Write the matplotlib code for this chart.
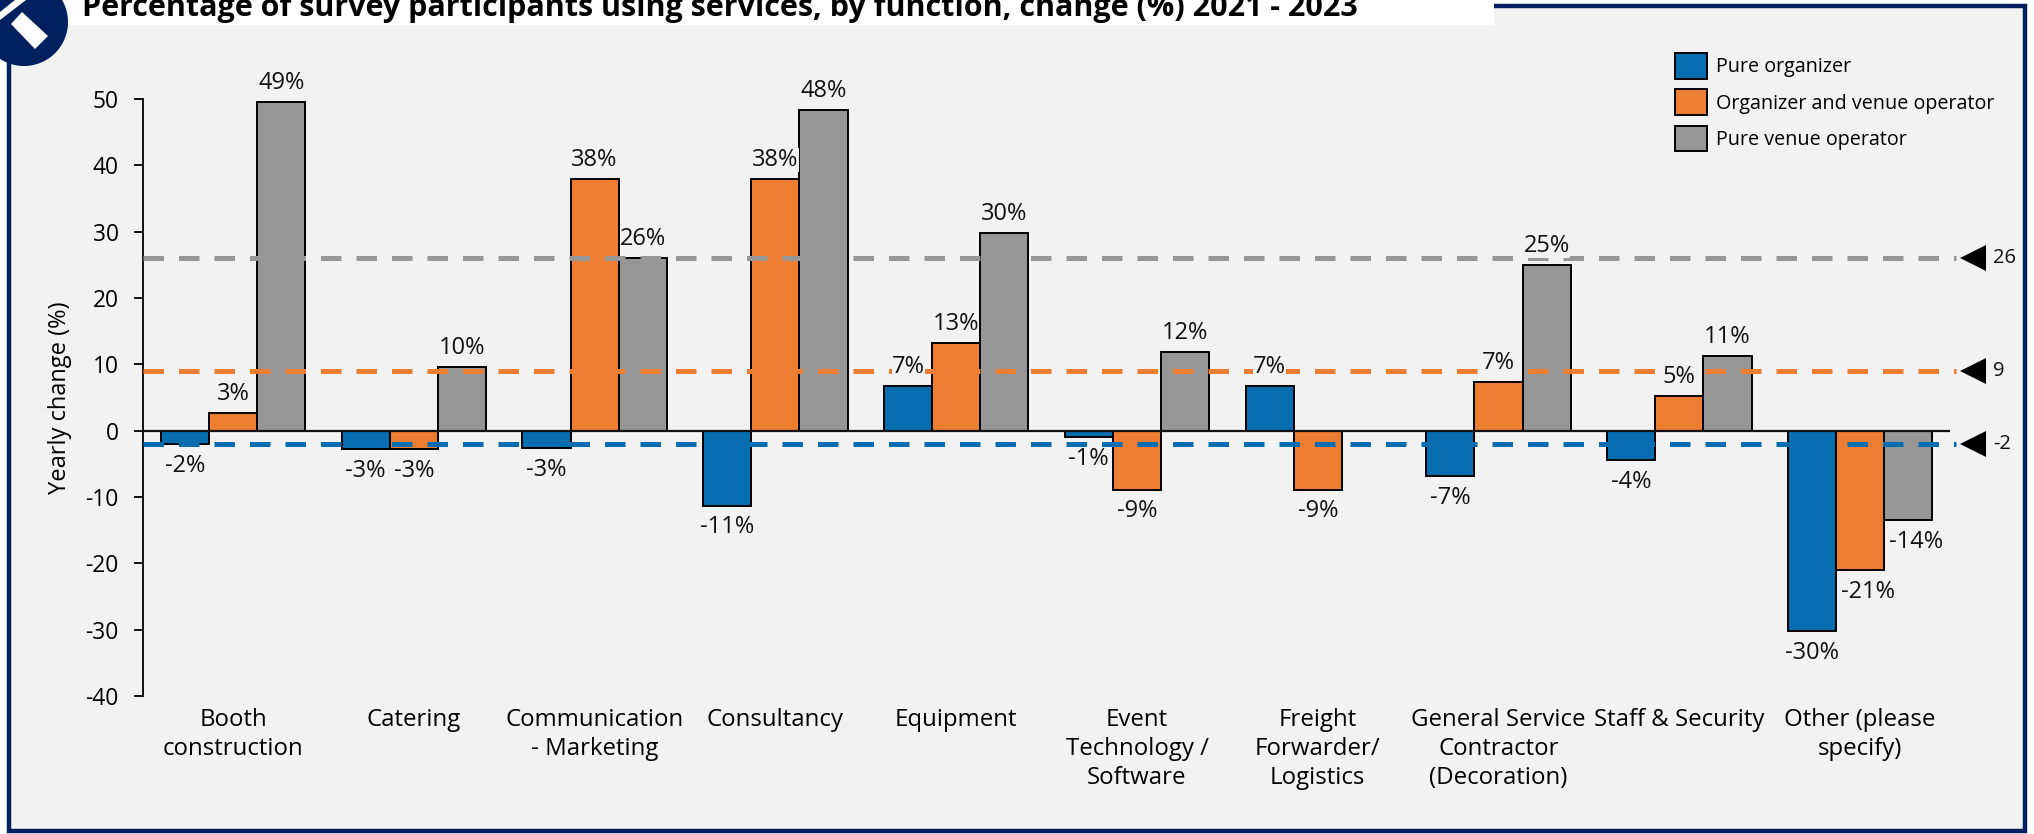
import matplotlib
matplotlib.use("Agg")
import numpy as np
import matplotlib.pyplot as plt
from matplotlib.patches import Circle, Polygon, Rectangle

plt.rcParams['font.family'] = ['Open Sans', 'DejaVu Sans']
plt.rcParams['axes.unicode_minus'] = False

categories = ["Booth\nconstruction", "Catering", "Communication\n- Marketing", "Consultancy", "Equipment",
              "Event\nTechnology /\nSoftware", "Freight\nForwarder/\nLogistics",
              "General Service\nContractor\n(Decoration)", "Staff & Security", "Other (please\nspecify)"]
series_names = ["Pure organizer", "Organizer and venue operator", "Pure venue operator"]
organizer = [-2, -2.8, -2.6, -11.3, 6.7, -1, 6.7, -6.9, -4.4, -30.2]
both = [2.7, -2.8, 38, 38, 13.2, -8.9, -8.9, 7.3, 5.2, -21]
venue = [49.5, 9.6, 26, 48.3, 29.8, 11.9, 0, 25, 11.2, -13.5]
organizer_labels = ["-2%", "-3%", "-3%", "-11%", "7%", "-1%", "7%", "-7%", "-4%", "-30%"]
both_labels = ["3%", "-3%", "38%", "38%", "13%", "-9%", "-9%", "7%", "5%", "-21%"]
venue_labels = ["49%", "10%", "26%", "48%", "30%", "12%", "", "25%", "11%", "-14%"]
averages = [-2, 9, 26]
average_labels = ["-2", "9", "26"]
colors = ["#066EB0", "#ED7D31", "#969696"]
title = "Percentage of survey participants using services, by function, change (%) 2021 - 2023"

W, H = 2034, 834
fig = plt.figure(figsize=(W / 100, H / 100), dpi=100, facecolor="white")

# background layer in pixels
bg = fig.add_axes([0, 0, 1, 1], zorder=0)
bg.set_xlim(0, W)
bg.set_ylim(H, 0)
bg.axis("off")
bg.add_patch(Rectangle((8.5, 6), 2016.5, 825, fc="#F2F2F2", ec="#002060", lw=3.2))
bg.add_patch(Rectangle((60, 0), 1434, 25, fc="white", ec="none"))
bg.add_patch(Circle((24, 22), 44, fc="#002060", ec="none"))
bg.add_patch(Polygon([(11, 24), (22, 12), (48, 36), (35, 49)], fc="white", ec="none"))
bg.add_patch(Polygon([(0, 12), (15, 0), (26, 0), (0, 20)], fc="white", ec="none"))
bg.text(82, 8, title, fontsize=22, fontweight="bold", color="black", va="center", ha="left", clip_on=False)

left, right = 143, 1950
top, bottom = 99, 696
ax = fig.add_axes([left / W, 1 - bottom / H, (right - left) / W, (bottom - top) / H], zorder=1)
ax.patch.set_alpha(0)

x = np.arange(len(categories))
bw = 0.2665
for i, (vals, labs) in enumerate(zip([organizer, both, venue], [organizer_labels, both_labels, venue_labels])):
    ax.bar(x + (i - 1) * bw, vals, bw, color=colors[i], edgecolor="black", linewidth=1.4, label=series_names[i], zorder=2)
    for j, (v, lab) in enumerate(zip(vals, labs)):
        dx = 0
        if j == 9 and i > 0:
            dx = 0.044
        ax.annotate(lab, (x[j] + (i - 1) * bw + dx, v), xytext=(0, 5 if v >= 0 else -7), textcoords="offset points",
                    ha="center", va="bottom" if v >= 0 else "top", fontsize=17, color="#111111", zorder=5,
                    bbox=dict(fc="#F2F2F2", ec="none", pad=0))

ax.axhline(0, color="#111111", lw=1.6, zorder=3)
for avg, lab, c in zip(averages, average_labels, colors):
    ax.plot([-0.498, 9.53], [avg, avg], color=c, lw=3.6, dashes=(4.1, 3.0), zorder=4, clip_on=False)
    ax.plot([9.625], [avg], marker="<", ms=19, color="black", clip_on=False, zorder=5, mew=0)
    ax.text(9.734, avg, lab, ha="left", va="center", fontsize=14.5, color="#111111", clip_on=False)

ax.set_xlim(-0.498, 9.497)
ax.set_ylim(-40, 50)
ax.set_yticks(range(-40, 51, 10))
ax.set_xticks(x)
ax.set_xticklabels(categories, linespacing=1.26)
ax.tick_params(axis="x", length=0, pad=9, labelsize=17.3)
ax.tick_params(axis="y", length=6.5, width=1.3, pad=11, labelsize=16.4)
ax.spines["top"].set_visible(False)
ax.spines["right"].set_visible(False)
ax.spines["bottom"].set_visible(False)
ax.spines["left"].set_linewidth(1.3)
ax.set_ylabel("Yearly change (%)", fontsize=17)
ax.yaxis.set_label_coords(-0.0393, 0.5)

h, l = ax.get_legend_handles_labels()
fig.legend(h, l, loc="upper left", bbox_to_anchor=(1674.5 / W, 1 - 53 / H), frameon=False, fontsize=14.2,
           handlelength=1.67, handleheight=1.615, handletextpad=0.45, labelspacing=0.55, borderpad=0, borderaxespad=0)

fig.savefig("out.png", dpi=100)
